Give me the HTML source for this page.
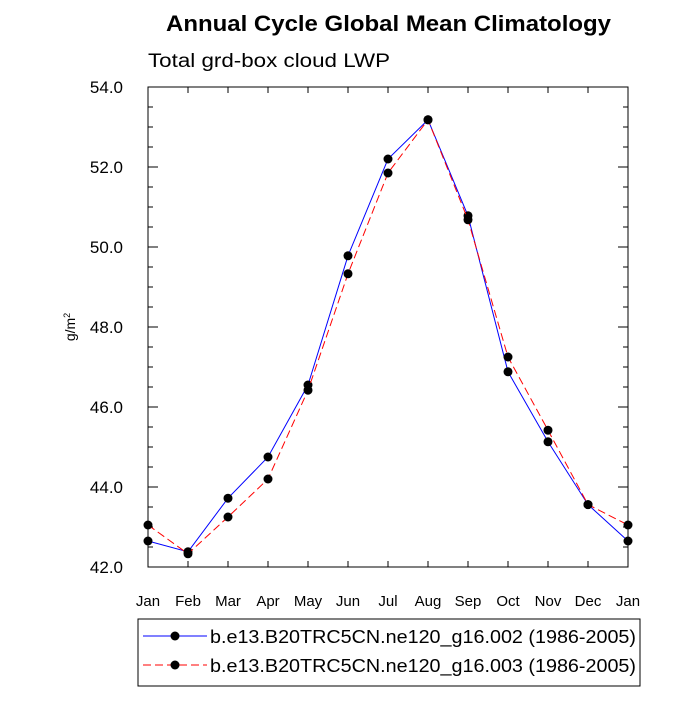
<!DOCTYPE html>
<html><head><meta charset="utf-8"><style>
body{margin:0;background:#fff;}
svg{font-family:"Liberation Sans",sans-serif;}
</style></head><body>
<svg id="chart" width="700" height="700" viewBox="0 0 700 700">
<text x="166" y="31" textLength="445" lengthAdjust="spacingAndGlyphs" font-size="22" font-weight="bold">Annual Cycle Global Mean Climatology</text>
<text x="148" y="67" textLength="242" lengthAdjust="spacingAndGlyphs" font-size="19">Total grd-box cloud LWP</text>
<text transform="translate(75,327) rotate(-90)" text-anchor="middle" font-size="14">g/m<tspan dy="-5" font-size="9">2</tspan></text>
<rect x="148" y="87" width="480" height="480" fill="none" stroke="#000" stroke-width="1"/>
<g id="axes"></g>
<g id="series"></g>
<rect x="138" y="619" width="502" height="67" fill="none" stroke="#000"/>
<g>
<line x1="143" y1="636" x2="207" y2="636" stroke="#0000ff"/><circle cx="175" cy="636" r="4.5"/>
<text x="210" y="643" textLength="426" lengthAdjust="spacingAndGlyphs" font-size="18">b.e13.B20TRC5CN.ne120_g16.002 (1986-2005)</text></g>
<g>
<line x1="143" y1="665" x2="207" y2="665" stroke="#ff0000" stroke-dasharray="8,4"/><circle cx="175" cy="665" r="4.5"/>
<text x="210" y="672" textLength="426" lengthAdjust="spacingAndGlyphs" font-size="18">b.e13.B20TRC5CN.ne120_g16.003 (1986-2005)</text></g>
</svg>
<script>
const months=["Jan","Feb","Mar","Apr","May","Jun","Jul","Aug","Sep","Oct","Nov","Dec","Jan"];
const series002=[42.65,42.38,43.72,44.75,46.55,49.78,52.2,53.18,50.78,46.88,45.13,43.56,42.65];
const series003=[43.05,42.33,43.25,44.2,46.42,49.33,51.85,53.18,50.68,47.25,45.42,43.56,43.05];
const yTicks=[42,44,46,48,50,52,54];
const ns="http://www.w3.org/2000/svg";
const X0=148,X1=628,Y0=567,Y1=87,YMIN=42,YMAX=54;
const xs=i=>X0+(X1-X0)*i/(months.length-1);
const ys=v=>Y0-(Y0-Y1)*(v-YMIN)/(YMAX-YMIN);
function mk(t,a,p){const e=document.createElementNS(ns,t);for(const k in a)e.setAttribute(k,a[k]);p.appendChild(e);return e;}
const ax=document.getElementById('axes');
months.forEach((m,i)=>{
  const x=xs(i);
  mk('line',{x1:x,y1:Y0,x2:x,y2:Y0-6,stroke:'#000'},ax);
  mk('line',{x1:x,y1:Y1,x2:x,y2:Y1+6,stroke:'#000'},ax);
  const t=mk('text',{x:x,y:Y0+39,'text-anchor':'middle','font-size':'15'},ax);
  t.textContent=m;
  
  
});
for(let v=YMIN;v<=YMAX+1e-9;v+=0.5){
  const y=ys(v);const major=Math.abs(v-Math.round(v/2)*2)<1e-9;
  const l=major?10:5;
  mk('line',{x1:X0,y1:y,x2:X0+l,y2:y,stroke:'#000'},ax);
  mk('line',{x1:X1,y1:y,x2:X1-l,y2:y,stroke:'#000'},ax);
}
yTicks.forEach(v=>{
  const t=mk('text',{x:X0-25,y:ys(v)+6,'text-anchor':'end','font-size':'17'},ax);
  t.textContent=v.toFixed(1);
  
  
});
const sg=document.getElementById('series');
function draw(arr,color,dash,name){
  const g=mk('g',{},sg);
  
  
  mk('polyline',{points:arr.map((v,i)=>xs(i)+','+ys(v)).join(' '),fill:'none',stroke:color,'stroke-width':1,'stroke-dasharray':dash},g);
  arr.forEach((v,i)=>{
    const c=mk('circle',{cx:xs(i),cy:ys(v),r:4.5,fill:'#000'},g);
    
    
  });
}
draw(series002,'#0000ff','none','series-002');
draw(series003,'#ff0000','8,4','series-003');
</script>
</body></html>
